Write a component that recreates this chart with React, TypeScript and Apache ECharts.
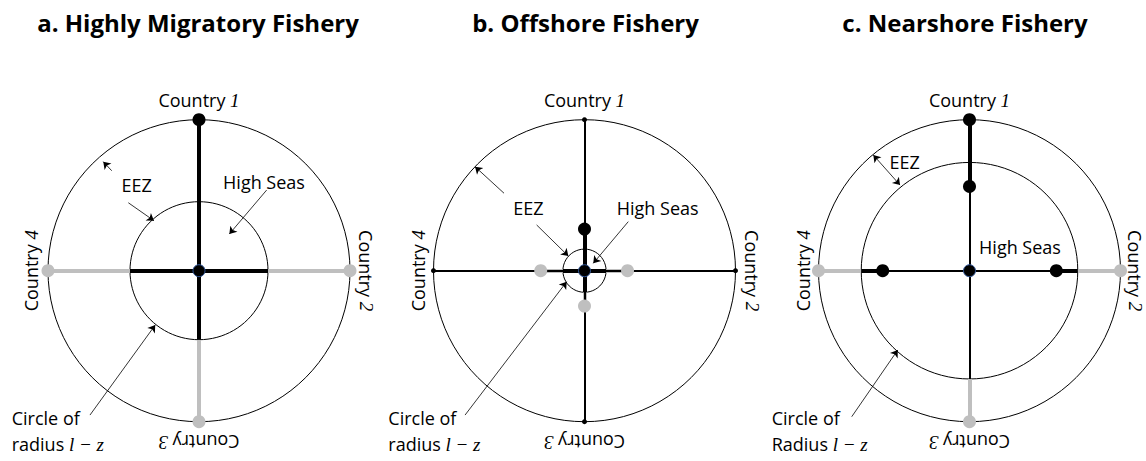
import React, { useEffect, useRef } from 'react';
import * as echarts from 'echarts';

// ---------- data (unit: outer EEZ boundary radius = 1) ----------
const panelTitles = ['a. Highly Migratory Fishery', 'b. Offshore Fishery', 'c. Nearshore Fishery'];
const countryWord = 'Country ';
const countryNumbers = ['1', '2', '3', '4'];
const regionLabels = ['EEZ', 'High Seas'];
const circleCaption = [
  ['Circle of', 'radius '],
  ['Circle of', 'radius '],
  ['Circle of', 'Radius '],
];
const mathExpr = 'l \u2212 z';

const outerRadius = [1, 1, 1];
const innerRadius = [0.457, 0.143, 0.717];

// segments [x1, y1, x2, y2]
const thickSegments = [
  [[0, 1, 0, -0.457], [-0.457, 0, 0.457, 0]],
  [[0, 0.276, 0, -0.143], [-0.143, 0, 0.143, 0]],
  [[0, 1, 0, 0.558], [-0.717, 0, -0.575, 0], [0.575, 0, 0.717, 0]],
];
const graySegments = [
  [[0, -0.457, 0, -1], [-1, 0, -0.457, 0], [0.457, 0, 1, 0]],
  [[-0.29, 0, -0.143, 0], [0.143, 0, 0.285, 0], [0, -0.143, 0, -0.234]],
  [[0, -0.717, 0, -1], [-1, 0, -0.717, 0], [0.717, 0, 1, 0]],
];
const thinSegments = [
  [],
  [[0, 1, 0, -1], [-1, 0, 1, 0]],
  [[0, 0.558, 0, -0.717], [-0.575, 0, 0.575, 0]],
];

// dots [x, y]
const blackDots = [
  [[0, 1]],
  [[0, 0.276]],
  [[0, 1], [0, 0.558], [-0.575, 0], [0.575, 0]],
];
const grayDots = [
  [[1, 0], [-1, 0], [0, -1]],
  [[-0.29, 0], [0.285, 0], [0, -0.234]],
  [[1, 0], [-1, 0], [0, -1]],
];
const smallDots = [
  [],
  [[0, 1], [1, 0], [0, -1], [-1, 0]],
  [],
];
const centerDots = [[0, 0]];

// annotation arrows [x1, y1, x2, y2]
const singleArrows = [
  [[-0.578, 0.662, -0.634, 0.722], [-0.468, 0.45, -0.298, 0.331], [0.448, 0.534, 0.201, 0.243], [-0.722, -0.956, -0.29, -0.36]],
  [[-0.533, 0.513, -0.725, 0.689], [-0.317, 0.303, -0.107, 0.097], [0.29, 0.325, 0.058, 0.049], [-0.791, -0.956, -0.118, -0.073]],
  [[-0.78, -0.967, -0.475, -0.525]],
];
const doubleArrows = [
  [],
  [],
  [[-0.637, 0.766, -0.46, 0.567]],
];

// ---------- layout ----------
const CX = [199, 584.5, 969.5];
const CY = 270.7;
const R = 151;
const TITLE_X = [198, 585.5, 965];
const COUNTRY_RIGHT = [167, 167.5, 165.5];
const COUNTRY_LEFT = [-168, -166.5, -166.5];
const EEZ_POS = [[136.7, 185], [528.3, 208.3], [904.7, 161.7]];
const HS_POS = [[264, 181.7], [657.7, 208.3], [1020, 246.7]];
const CAPTION_X = [11.7, 388.3, 771.7];

const FONT = 'Open Sans';
const MATH_FONT = 'Liberation Serif';
const GRAY = '#bfbfbf';

function segSeries(i: number, segs: number[][], color: string, width: number, z: number) {
  return {
    type: 'lines',
    coordinateSystem: 'cartesian2d',
    xAxisIndex: i,
    yAxisIndex: i,
    silent: true,
    z,
    symbol: 'none',
    lineStyle: { color, width, opacity: 1, curveness: 0, cap: 'butt' },
    data: segs.map((s) => ({ coords: [[s[0], s[1]], [s[2], s[3]]] })),
  };
}

function arrowSeries(i: number, segs: number[][], both: boolean) {
  return {
    type: 'lines',
    coordinateSystem: 'cartesian2d',
    xAxisIndex: i,
    yAxisIndex: i,
    silent: true,
    z: 5,
    symbol: both ? ['arrow', 'arrow'] : ['none', 'arrow'],
    symbolSize: 7,
    lineStyle: { color: '#000', width: 0.8, opacity: 1, curveness: 0 },
    data: segs.map((s) => ({ coords: [[s[0], s[1]], [s[2], s[3]]] })),
  };
}

function dotSeries(i: number, pts: number[][], color: string, size: number, z: number, border?: string) {
  return {
    type: 'scatter',
    xAxisIndex: i,
    yAxisIndex: i,
    silent: true,
    z,
    clip: false,
    symbol: 'circle',
    symbolSize: size,
    itemStyle: { color, opacity: 1, borderColor: border || color, borderWidth: border ? 1 : 0 },
    data: pts,
  };
}

function circleSeries(i: number) {
  return {
    type: 'custom',
    xAxisIndex: i,
    yAxisIndex: i,
    silent: true,
    clip: false,
    z: 1,
    encode: { x: 0, y: 1 },
    data: [
      [0, 0, outerRadius[i]],
      [0, 0, innerRadius[i]],
    ],
    renderItem: (params: any, api: any) => {
      const c = api.coord([api.value(0), api.value(1)]);
      const e = api.coord([api.value(0) + api.value(2), api.value(1)]);
      return {
        type: 'circle',
        shape: { cx: c[0], cy: c[1], r: e[0] - c[0] },
        style: { fill: 'none', stroke: '#000', lineWidth: 1 },
      };
    },
  };
}

function countryText(x: number, y: number, n: string, rotation: number) {
  return {
    type: 'text',
    x,
    y,
    rotation,
    silent: true,
    style: {
      text: `{c|${countryWord}}{n|${n}}`,
      align: 'center',
      verticalAlign: 'middle',
      fontSize: 18,
      fontFamily: FONT,
      fill: '#000',
      rich: {
        c: { fontSize: 18, fontFamily: FONT, fill: '#000' },
        n: { fontSize: 19, fontFamily: MATH_FONT, fontStyle: 'italic', fill: '#000' },
      },
    },
  };
}

function plainText(x: number, y: number, text: string, align = 'center') {
  return {
    type: 'text',
    x,
    y,
    silent: true,
    style: { text, align, verticalAlign: 'middle', fontSize: 18, fontFamily: FONT, fill: '#000' },
  };
}

export default function App() {
  const ref = useRef<HTMLDivElement>(null);
  useEffect(() => {
    if (!ref.current) return;
    const chart = echarts.init(ref.current, undefined, { renderer: 'svg' });
    const grids: any[] = [];
    const xAxes: any[] = [];
    const yAxes: any[] = [];
    const series: any[] = [];
    const graphic: any[] = [];
    for (let i = 0; i < 3; i++) {
      grids.push({ left: CX[i] - R, top: CY - R, width: 2 * R, height: 2 * R, containLabel: false });
      xAxes.push({ type: 'value', gridIndex: i, min: -1, max: 1, show: false });
      yAxes.push({ type: 'value', gridIndex: i, min: -1, max: 1, show: false });
      series.push(circleSeries(i));
      series.push(segSeries(i, graySegments[i], GRAY, 4, 2));
      series.push(segSeries(i, thinSegments[i], '#000', 2, 3));
      series.push(segSeries(i, thickSegments[i], '#000', 4, 3));
      series.push(arrowSeries(i, singleArrows[i], false));
      series.push(arrowSeries(i, doubleArrows[i], true));
      series.push(dotSeries(i, grayDots[i], GRAY, 13, 6));
      series.push(dotSeries(i, blackDots[i], '#000', 13, 6));
      series.push(dotSeries(i, smallDots[i], '#000', 5, 6));
      series.push(dotSeries(i, centerDots, '#000', 12, 7, '#2f5597'));

      graphic.push({
        type: 'text',
        x: TITLE_X[i],
        y: 22,
        silent: true,
        style: {
          text: panelTitles[i],
          align: 'center',
          verticalAlign: 'middle',
          fontSize: 24,
          fontWeight: 'bold',
          fontFamily: FONT,
          fill: '#000',
        },
      });
      graphic.push(countryText(CX[i], CY - 170.7, countryNumbers[0], 0));
      graphic.push(countryText(CX[i] + COUNTRY_RIGHT[i], CY, countryNumbers[1], -Math.PI / 2));
      graphic.push(countryText(CX[i], CY + 171.3, countryNumbers[2], Math.PI));
      graphic.push(countryText(CX[i] + COUNTRY_LEFT[i], CY, countryNumbers[3], Math.PI / 2));
      graphic.push(plainText(EEZ_POS[i][0], EEZ_POS[i][1], regionLabels[0]));
      graphic.push(plainText(HS_POS[i][0], HS_POS[i][1], regionLabels[1]));
      graphic.push(plainText(CAPTION_X[i], 417.7, circleCaption[i][0], 'left'));
      graphic.push({
        type: 'text',
        x: CAPTION_X[i],
        y: 444,
        silent: true,
        style: {
          text: `{r|${circleCaption[i][1]}}{m|${mathExpr}}`,
          align: 'left',
          verticalAlign: 'middle',
          fontSize: 18,
          fontFamily: FONT,
          fill: '#000',
          rich: {
            r: { fontSize: 18, fontFamily: FONT, fill: '#000' },
            m: { fontSize: 19, fontFamily: MATH_FONT, fontStyle: 'italic', fill: '#000' },
          },
        },
      });
    }
    chart.setOption({
      animation: false,
      backgroundColor: '#ffffff',
      grid: grids,
      xAxis: xAxes,
      yAxis: yAxes,
      series,
      graphic,
    });
    return () => chart.dispose();
  }, []);
  return (
    <div
      ref={ref}
      style={{ position: 'absolute', left: 0, top: 0, width: 1146, height: 461, background: '#fff' }}
    />
  );
}
